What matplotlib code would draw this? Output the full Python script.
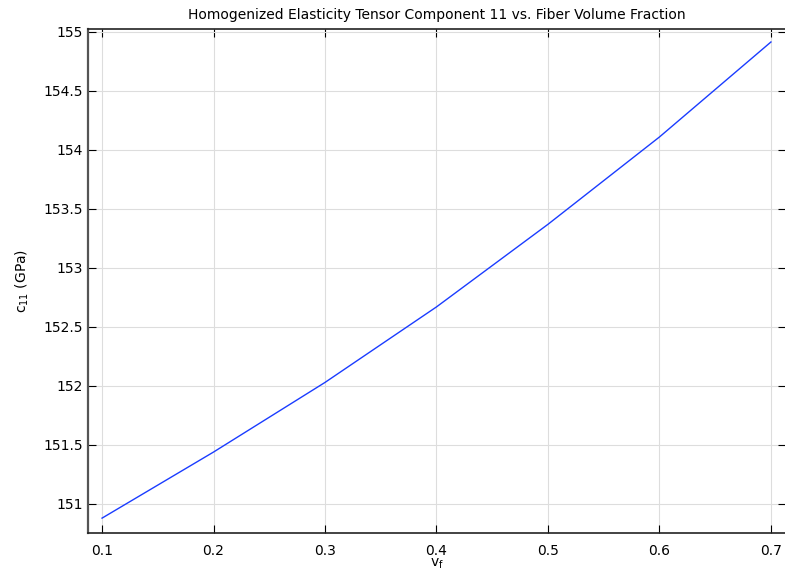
import matplotlib
matplotlib.use("Agg")
from matplotlib import pyplot as plt

vf = [0.1, 0.2, 0.3, 0.4, 0.5, 0.6, 0.7]
c11 = [150.88, 151.44, 152.03, 152.67, 153.37, 154.11, 154.915]
xticks = [0.1, 0.2, 0.3, 0.4, 0.5, 0.6, 0.7]
yticks = [151, 151.5, 152, 152.5, 153, 153.5, 154, 154.5, 155]
ylabels = ["151", "151.5", "152", "152.5", "153", "153.5", "154", "154.5", "155"]

fig = plt.figure(figsize=(7.85, 5.73), dpi=100)
# right spine sits just outside the picture, like the original export
ax = fig.add_axes([88 / 785, 1 - 533 / 573, (786 - 88) / 785, (533 - 29) / 573])

ax.plot(vf, c11, color="#1a3cff", linewidth=1.0)

ax.set_xlim(0.0874, 0.7135)
ax.set_ylim(150.754, 155.025)
ax.set_xticks(xticks)
ax.set_xticklabels([str(t) for t in xticks])
ax.set_yticks(yticks)
ax.set_yticklabels(ylabels)
ax.grid(True, color="#dddddd", linewidth=0.8)
ax.set_axisbelow(True)

ax.tick_params(direction="in", length=6, width=0.8, labelsize=10, top=True, right=True,
               colors="black")
ax.tick_params(axis="x", pad=8)
for s in ax.spines.values():
    s.set_linewidth(1.2)
    s.set_color("#222222")
ax.spines["left"].set_color("#555555")
ax.spines["left"].set_linewidth(1.6)

ax.set_title("Homogenized Elasticity Tensor Component 11 vs. Fiber Volume Fraction",
             fontsize=10, pad=7)
ax.set_xlabel("v$_{\\mathregular{f}}$", fontsize=10, labelpad=-1)
ax.set_ylabel("c$_{\\mathregular{11}}$ (GPa)", fontsize=10, labelpad=9)

fig.savefig("out.png", dpi=100)
